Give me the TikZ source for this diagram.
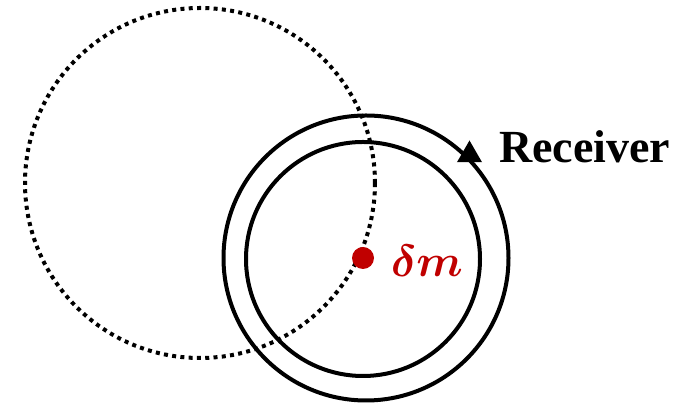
\RequirePackage{fix-cm}
\documentclass[tikz,border=0pt]{standalone}
\usepackage{fontspec}
\setmainfont{Liberation Serif}
\usetikzlibrary{shapes.geometric}
\definecolor{dmred}{RGB}{192,0,0}
\begin{document}
\begin{tikzpicture}[x=1pt,y=1pt,
  ring/.style={draw=black,line width=4pt},
  dotring/.style={draw=black,line width=4pt,dash pattern=on 4pt off 4.3pt},
  lbl/.style={inner sep=0pt,anchor=base west}]
\useasboundingbox (0,0) rectangle (697,403);
\draw[dotring] (200,220) circle (175);
\draw[ring] (366,145) circle (142.5);
\draw[ring] (363,144) circle (117);
\fill[dmred] (363,145) circle (11);
\node[fill=black,regular polygon,regular polygon sides=3,minimum size=29pt,inner sep=0pt] (tri) at (469.5,248) {};
\node[lbl,font=\bfseries\fontsize{46}{46}\selectfont] (rec) at (499,240) {Receiver};
\node[lbl,font={\fontsize{45}{45}\selectfont\mathversion{bold}},text=dmred] (dm) at (391,126) {$\delta m$};
\end{tikzpicture}
\end{document}
